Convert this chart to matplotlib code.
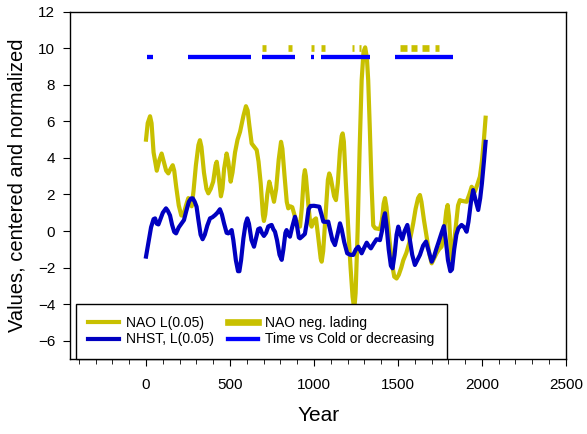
import matplotlib
matplotlib.use("Agg")
import matplotlib.pyplot as plt
from matplotlib.lines import Line2D
from matplotlib.ticker import MultipleLocator

plt.rcParams['font.family'] = ['Liberation Sans', 'DejaVu Sans']

# NAO L(0.05) series
nao_year = [0, 10, 24, 33, 45, 64, 80, 93, 103, 120, 133, 146, 159, 168, 180,
            195, 210, 222, 238, 252, 262, 272, 283, 297, 312, 321, 330, 345,
            360, 371, 385, 400, 414, 421, 430, 446, 455, 465, 480, 490, 504,
            515, 530, 545, 560, 580, 595, 605, 615, 629, 645, 659, 670, 683,
            696, 702, 710, 722, 734, 745, 762, 775, 790, 804, 812, 825, 838,
            847, 860, 871, 887, 905, 917, 928, 940, 946, 952, 966, 978, 986,
            1000, 1012, 1025, 1040, 1046, 1055, 1070, 1083, 1091, 1100, 1120,
            1131, 1142, 1155, 1165, 1171, 1178, 1190, 1205, 1218, 1230, 1240,
            1248, 1260, 1272, 1284, 1295, 1305, 1315, 1323, 1333, 1343, 1353,
            1365, 1393, 1405, 1415, 1423, 1432, 1450, 1465, 1478, 1492, 1505,
            1520, 1532, 1550, 1567, 1580, 1591, 1605, 1620, 1631, 1640, 1655,
            1671, 1688, 1701, 1715, 1730, 1745, 1760, 1775, 1788, 1796, 1804,
            1813, 1820, 1830, 1845, 1858, 1869, 1880, 1909, 1925, 1939, 1958,
            1975, 1988, 2000, 2012, 2022]
nao_val = [5.0, 5.9, 6.28, 5.9, 4.3, 3.3, 3.9, 4.24, 3.9, 3.3, 3.15, 3.4, 3.6,
           3.3, 2.4, 1.4, 0.85, 0.85, 1.4, 1.8, 1.6, 1.35, 2.2, 3.6, 4.7, 4.97,
           4.6, 3.2, 2.3, 2.06, 2.3, 2.7, 3.6, 3.79, 3.2, 1.9, 2.3, 3.4, 4.24,
           3.8, 2.7, 3.2, 4.3, 5.0, 5.43, 6.3, 6.83, 6.6, 5.8, 4.79, 4.6, 4.43,
           3.8, 2.6, 0.9, 0.55, 0.9, 2.0, 2.7, 2.3, 1.6, 2.3, 3.9, 4.88, 4.5,
           3.0, 1.6, 1.24, 1.35, 1.3, 0.78, 0.3, 0.24, 1.3, 3.0, 3.33, 3.0, 1.5,
           0.4, 0.24, 0.6, 0.69, -0.3, -1.5, -1.68, -1.1, 1.0, 2.8, 3.15, 2.9,
           1.9, 1.69, 2.6, 4.4, 5.2, 5.34, 4.9, 2.6, 0.0, -2.0, -3.6, -4.3,
           -3.4, 0.0, 4.5, 8.25, 9.8, 10.05, 9.5, 8.25, 5.5, 2.5, 0.3, 0.15,
           0.1, 0.6, 1.5, 1.8, 1.3, -0.5, -1.8, -2.5, -2.6, -2.4, -2.0, -1.6,
           -1.2, -0.67, -0.1, 0.42, 1.2, 1.8, 1.97, 1.6, 0.6, -0.31, -1.3, -1.77,
           -1.5, -1.22, -1.0, -0.86, 0.0, 1.1, 1.42, 0.8, -0.8, -1.58, -1.0, 0.3,
           1.4, 1.69, 1.65, 1.6, 2.0, 2.42, 2.15, 2.6, 2.97, 3.8, 5.0, 6.2]

# NHST, L(0.05) series
nhst_year = [0, 15, 30, 45, 54, 64, 74, 88, 100, 119, 130, 143, 155, 168, 179,
             195, 212, 226, 240, 255, 268, 278, 290, 301, 312, 325, 337, 350,
             365, 381, 395, 411, 425, 440, 452, 465, 480, 490, 500, 510, 520,
             535, 548, 556, 566, 580, 593, 603, 613, 628, 643, 655, 668, 679,
             690, 702, 715, 728, 738, 748, 758, 768, 780, 795, 808, 818, 830,
             837, 847, 857, 870, 887, 897, 910, 917, 930, 946, 958, 968, 980,
             1000, 1032, 1045, 1056, 1070, 1085, 1095, 1110, 1125, 1140, 1155,
             1165, 1180, 1198, 1215, 1234, 1250, 1264, 1275, 1284, 1300, 1314,
             1325, 1339, 1355, 1373, 1393, 1405, 1415, 1423, 1432, 1445, 1458,
             1468, 1480, 1492, 1502, 1515, 1526, 1540, 1556, 1568, 1585, 1601,
             1615, 1631, 1650, 1667, 1683, 1701, 1715, 1728, 1740, 1760, 1774,
             1785, 1798, 1812, 1822, 1835, 1848, 1860, 1879, 1895, 1909, 1920,
             1935, 1948, 1962, 1978, 1990, 2000, 2012, 2022]
nhst_val = [-1.4, -0.6, 0.2, 0.65, 0.69, 0.4, 0.36, 0.7, 1.0, 1.24, 1.1, 0.85,
            0.35, -0.05, -0.13, 0.2, 0.42, 0.6, 1.1, 1.6, 1.78, 1.79, 1.6, 1.33,
            0.6, -0.2, -0.45, -0.2, 0.3, 0.69, 0.75, 0.87, 1.0, 1.19, 0.9, 0.4,
            -0.1, -0.13, -0.05, 0.05, -0.5, -1.6, -2.2, -2.2, -1.6, -0.4, 0.4,
            0.69, 0.4, -0.5, -0.86, -0.4, 0.1, 0.15, -0.1, -0.27, -0.1, 0.25,
            0.3, 0.33, 0.1, -0.04, -0.5, -1.3, -1.58, -1.0, -0.1, 0.05, -0.2,
            -0.31, 0.2, 0.78, 0.4, -0.35, -0.4, -0.3, -0.16, 0.5, 1.2, 1.37,
            1.38, 1.33, 0.9, 0.51, 0.5, 0.51, 0.1, -0.5, -0.77, -0.2, 0.42, 0.1,
            -0.6, -1.22, -1.3, -1.31, -1.0, -0.86, -1.05, -1.22, -0.9, -0.64,
            -0.8, -0.95, -0.7, -0.45, -0.5, 0.0, 0.7, 0.97, 0.3, -1.0, -1.9,
            -2.04, -1.3, -0.2, 0.24, -0.2, -0.45, 0.0, 0.33, -0.3, -1.3, -1.86,
            -1.6, -1.31, -0.8, -0.58, -1.1, -1.68, -1.4, -1.0, -0.67, -0.1, 0.27,
            -0.5, -1.6, -2.2, -2.1, -1.0, -0.2, 0.15, 0.33, 0.2, -0.04, 0.5,
            1.6, 2.24, 1.7, 1.15, 1.8, 2.6, 3.8, 4.88]

# periods (start, end) for the marker bars
nao_neg_start = [690, 847, 982, 1042, 1228, 1270, 1512, 1575, 1645, 1722]
nao_neg_end = [712, 869, 1000, 1067, 1236, 1280, 1552, 1611, 1686, 1746]
cold_start = [4, 248, 689, 982, 1042, 1484]
cold_end = [44, 625, 887, 1002, 1333, 1827]
nao_neg_level = 10.0
cold_level = 9.5

c_nao = '#C8C000'
c_nhst = '#0000C0'
c_cold = '#0000FF'

fig = plt.figure(figsize=(5.87, 4.34), dpi=100)
ax = fig.add_axes([0.120, 0.173, 0.844, 0.8])

ax.plot(nao_year, nao_val, color=c_nao, lw=3, solid_joinstyle='round')
ax.plot(nhst_year, nhst_val, color=c_nhst, lw=3, solid_joinstyle='round')
ax.hlines([nao_neg_level] * len(nao_neg_start), nao_neg_start, nao_neg_end,
          color=c_nao, lw=4.8, capstyle='butt')
ax.hlines([cold_level] * len(cold_start), cold_start, cold_end,
          color=c_cold, lw=3.1, capstyle='butt')

ax.set_xlim(-450, 2500)
ax.set_ylim(-7, 12)
ax.xaxis.set_major_locator(MultipleLocator(500))
ax.xaxis.set_minor_locator(MultipleLocator(100))
ax.yaxis.set_major_locator(MultipleLocator(2))
ax.tick_params(axis='x', which='major', length=5, pad=9, labelsize=11)
ax.tick_params(axis='x', which='minor', length=3.5)
ax.tick_params(axis='y', which='major', length=5, pad=6, labelsize=11)
for s in ax.spines.values():
    s.set_linewidth(1.0)

ax.set_xlabel("Year", fontsize=15, labelpad=10)
ax.set_ylabel("Values, centered and normalized", fontsize=14.5, labelpad=8)

handles = [Line2D([], [], color=c_nao, lw=3),
           Line2D([], [], color=c_nhst, lw=3),
           Line2D([], [], color=c_nao, lw=4.8),
           Line2D([], [], color=c_cold, lw=3.1)]
labels = ["NAO L(0.05)", "NHST, L(0.05)", "NAO neg. lading",
          "Time vs Cold or decreasing"]
leg = ax.legend(handles, labels, ncol=2, loc='lower left',
                bbox_to_anchor=(0.011, 0.0), borderaxespad=0, fontsize=10,
                handlelength=2.2, handletextpad=0.5, columnspacing=1.0,
                labelspacing=0.15, borderpad=0.9, fancybox=False,
                framealpha=1)
leg.get_frame().set_edgecolor('black')
leg.get_frame().set_linewidth(1.0)

fig.savefig("out.png", dpi=100)
